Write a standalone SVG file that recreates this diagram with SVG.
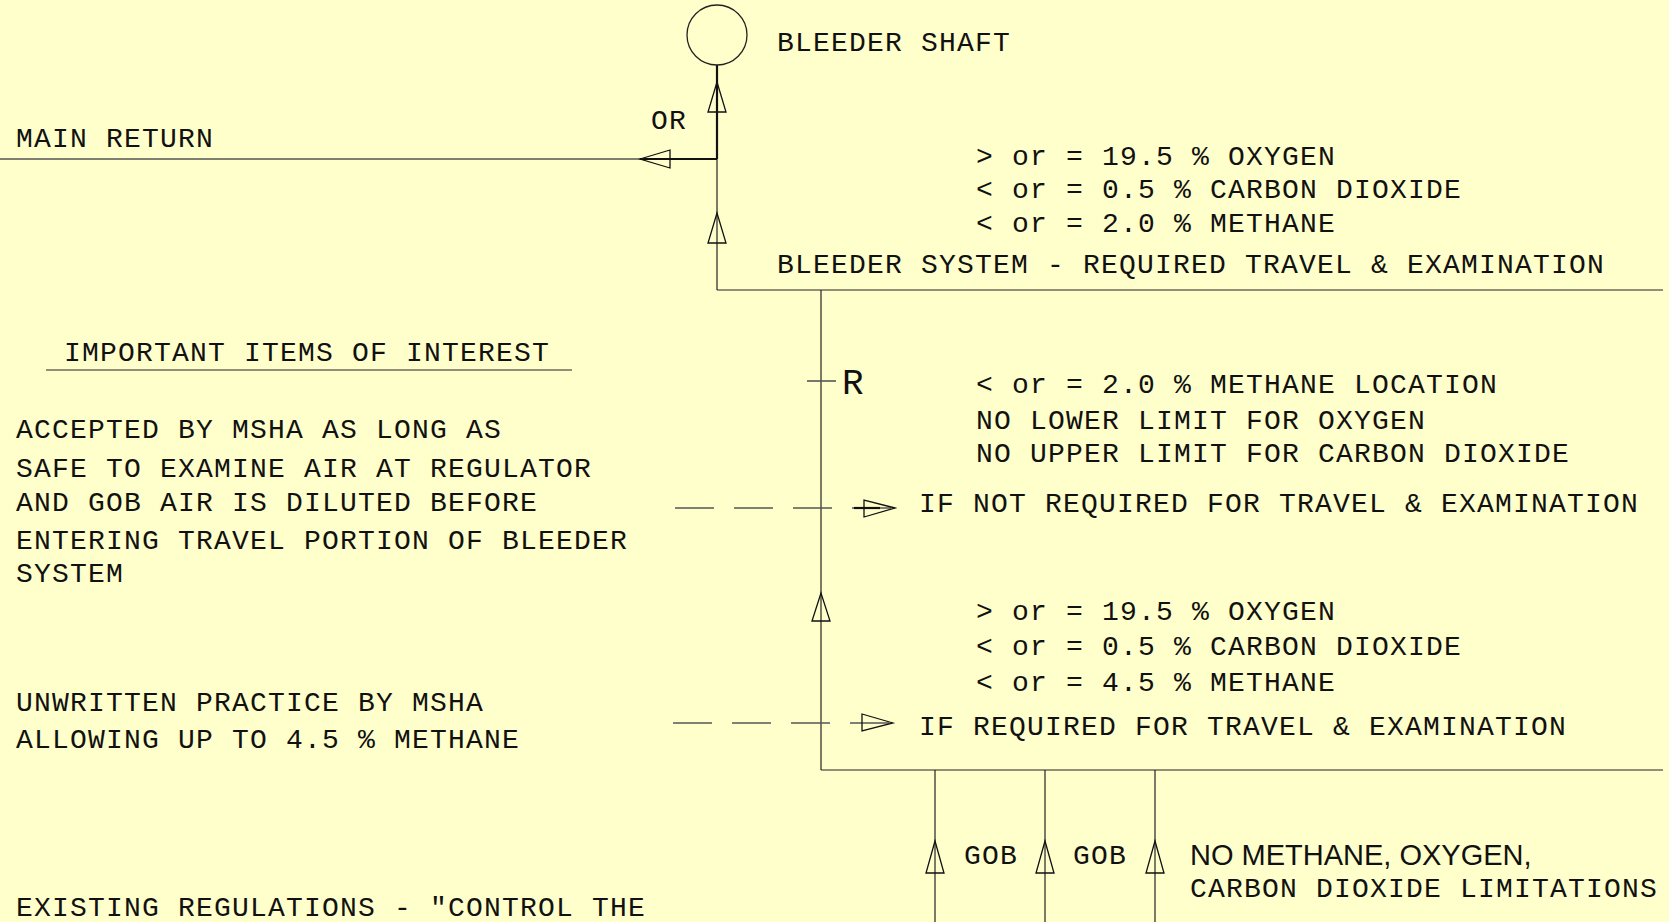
<svg xmlns="http://www.w3.org/2000/svg" width="1669" height="922" viewBox="0 0 1669 922">
<style>
.t{font-family:"Liberation Mono","Courier New",monospace;font-size:28px;letter-spacing:1.2px;fill:#111}
.s{font-family:"Liberation Sans",Arial,sans-serif;font-size:29px;fill:#111}
.ln{stroke:#222;stroke-width:1.2;fill:none}
.thk{stroke:#111;stroke-width:2.2;fill:none}
.gr{stroke:#555;stroke-width:1.6;fill:none}
.ds{stroke:#555;stroke-width:1.6;fill:none;stroke-dasharray:39 20}
.ar{stroke:#111;stroke-width:1.3;fill:none}
</style>
<rect width="1669" height="922" fill="#FFFFCC"/>
<g id="connectors">
<line class="thk" x1="717" y1="65" x2="717" y2="159"/>
<line class="ln" x1="717" y1="159" x2="717" y2="290"/>
<line class="gr" x1="0" y1="159" x2="640" y2="159"/>
<line class="thk" x1="640" y1="159" x2="717" y2="159"/>
<polygon class="ar" points="640,159 670,150 670,168"/>
<polygon class="ar" points="717,82 708,112 726,112"/>
<polygon class="ar" points="717,213 708,243 726,243"/>
<line class="ln" x1="717" y1="290" x2="1663" y2="290"/>
<line class="ln" x1="821" y1="290" x2="821" y2="770"/>
<line class="gr" x1="807" y1="381" x2="836" y2="381"/>
<polygon class="ar" points="821,593 812,621 830,621"/>
<line class="ds" x1="675" y1="508" x2="895" y2="508"/>
<line class="thk" x1="854" y1="508" x2="880" y2="508"/>
<polygon class="ar" points="895,508 864,500 864,517"/>
<line class="ds" x1="673" y1="723" x2="893" y2="723"/>
<polygon class="ar" points="893,723 862,714 862,731"/>
<line class="ln" x1="821" y1="770" x2="1663" y2="770"/>
<line class="ln" x1="935" y1="770" x2="935" y2="922"/>
<line class="ln" x1="1045" y1="770" x2="1045" y2="922"/>
<line class="ln" x1="1155" y1="770" x2="1155" y2="922"/>
<polygon class="ar" points="935,841 926,873 944,873"/>
<polygon class="ar" points="1045,841 1036,873 1054,873"/>
<polygon class="ar" points="1155,841 1146,873 1164,873"/>
<line class="ln" x1="46" y1="370" x2="572" y2="370"/>
</g>
<g id="bleeder-shaft">
<circle cx="717" cy="35" r="30" fill="none" stroke="#222" stroke-width="1.3"/>
<text class="t" x="777" y="51">BLEEDER SHAFT</text>
</g>
<g id="main-return"><text class="t" x="16" y="147">MAIN RETURN</text></g>
<g id="or-label"><text class="t" x="651" y="129">OR</text></g>
<g id="bleeder-system">
<text class="t" x="976" y="165">&gt; or = 19.5 % OXYGEN</text>
<text class="t" x="976" y="198">&lt; or = 0.5 % CARBON DIOXIDE</text>
<text class="t" x="976" y="232">&lt; or = 2.0 % METHANE</text>
<text class="t" x="777" y="273">BLEEDER SYSTEM - REQUIRED TRAVEL &amp; EXAMINATION</text>
</g>
<g id="regulator">
<text x="842" y="394" style="font-family:'Liberation Mono','Courier New',monospace;font-size:36px;fill:#111">R</text>
</g>
<g id="not-required">
<text class="t" x="976" y="393">&lt; or = 2.0 % METHANE LOCATION</text>
<text class="t" x="976" y="429">NO LOWER LIMIT FOR OXYGEN</text>
<text class="t" x="976" y="462">NO UPPER LIMIT FOR CARBON DIOXIDE</text>
<text class="t" x="919" y="512">IF NOT REQUIRED FOR TRAVEL &amp; EXAMINATION</text>
</g>
<g id="required">
<text class="t" x="976" y="620">&gt; or = 19.5 % OXYGEN</text>
<text class="t" x="976" y="655">&lt; or = 0.5 % CARBON DIOXIDE</text>
<text class="t" x="976" y="691">&lt; or = 4.5 % METHANE</text>
<text class="t" x="919" y="735">IF REQUIRED FOR TRAVEL &amp; EXAMINATION</text>
</g>
<g id="items-of-interest">
<text class="t" x="64" y="361">IMPORTANT ITEMS OF INTEREST</text>
<text class="t" x="16" y="438">ACCEPTED BY MSHA AS LONG AS</text>
<text class="t" x="16" y="477">SAFE TO EXAMINE AIR AT REGULATOR</text>
<text class="t" x="16" y="511">AND GOB AIR IS DILUTED BEFORE</text>
<text class="t" x="16" y="549">ENTERING TRAVEL PORTION OF BLEEDER</text>
<text class="t" x="16" y="582">SYSTEM</text>
<text class="t" x="16" y="711">UNWRITTEN PRACTICE BY MSHA</text>
<text class="t" x="16" y="748">ALLOWING UP TO 4.5 % METHANE</text>
<text class="t" x="16" y="916">EXISTING REGULATIONS - "CONTROL THE</text>
</g>
<g id="gob">
<text class="t" x="964" y="864">GOB</text>
<text class="t" x="1073" y="864">GOB</text>
<text class="s" x="1190" y="865">NO METHANE, OXYGEN,</text>
<text class="t" x="1190" y="897">CARBON DIOXIDE LIMITATIONS</text>
</g>
</svg>
